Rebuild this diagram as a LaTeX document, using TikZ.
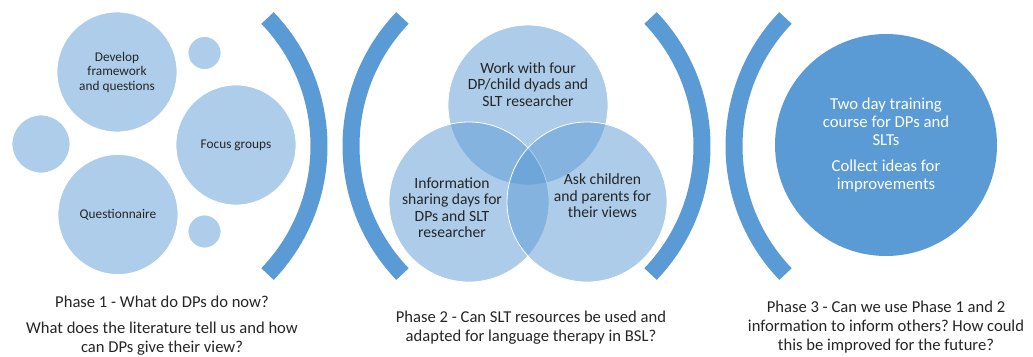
\documentclass[tikz,border=0pt]{standalone}
\usepackage{fontspec}
\setmainfont{Carlito}
\usetikzlibrary{calc}
\frenchspacing

\definecolor{arcblue}{HTML}{5B9BD5}
\definecolor{lightblue}{HTML}{ADCDEA}
\definecolor{textgray}{HTML}{262626}

\begin{document}
\begin{tikzpicture}[x=1pt,y=-1pt,
        band/.style={arcblue,line width=17pt},
        bubble/.style={circle,fill=lightblue,draw=white,line width=0.8pt,inner sep=0pt,
            text=textgray,align=center,font=\fontsize{13.3}{14.5}\selectfont},
        venn/.style={circle,fill=arcblue,fill opacity=0.5,draw=white,line width=0.8pt,
            minimum size=160pt,inner sep=0pt},
        venntext/.style={text=textgray,align=center,font=\fontsize{15.6}{16.5}\selectfont},
        phasetext/.style={text=textgray,align=center,font=\fontsize{16.6}{19}\selectfont}]
        \useasboundingbox (0,0) rectangle (1033,356);
        \fill[white] (0,0) rectangle (1033,356);

        % Arcs
        \foreach \cx/\mid in {134/0, 536/180, 517/0, 919/180}
            \draw[band] (\cx,146) ++({\mid-43.8}:185) arc[start angle=\mid-43.8, end angle=\mid+43.8, radius=185];

        % Phase 1 bubbles
        \node[bubble,minimum size=120pt] (develop) at (117,72) {Develop\\framework\\and questions};
        \node[bubble,minimum size=120pt] (focus) at (236,145) {Focus groups};
        \node[bubble,minimum size=120pt] (quest) at (118,214.5) {Questionnaire};
        \node[bubble,minimum size=58pt] (leftdot) at (41,144) {};
        \node[bubble,minimum size=33pt] (topdot) at (204.5,53) {};
        \node[bubble,minimum size=33pt] (botdot) at (204.5,231.5) {};

        % Phase 2 venn
        \node[venn] (work) at (528,105) {};
        \node[venn] (info) at (469,202) {};
        \node[venn] (ask) at (587,202) {};
        \node[venntext] (worklabel) at ([yshift=20.5pt]work.center) {Work with four\\DP/child dyads and\\SLT researcher};
        \node[venntext] (infolabel) at ([xshift=-17pt,yshift=-5.5pt]info.center) {Information\\sharing days for\\DPs and SLT\\researcher};
        \node[venntext] (asklabel) at ([xshift=15.5pt,yshift=6pt]ask.center) {Ask children\\and parents for\\their views};

        % Phase 3 circle
        \node[circle,fill=arcblue,minimum size=222pt,inner sep=0pt,text=white,align=center,
            font=\fontsize{16.7}{18}\selectfont] (training) at (886,145)
            {Two day training\\course for DPs and\\SLTs\\[8pt]Collect ideas for\\improvements};

        % Captions
        \node[phasetext,inner sep=1pt] (phaseone) at (162,326) {Phase 1 - What do DPs do now?\\[7pt]What does the literature tell us and how\\can DPs give their view?};
        \node[phasetext] (phasetwo) at (531,327.5) {Phase 2 - Can SLT resources be used and\\adapted for language therapy in BSL?};
        \node[phasetext] (phasethree) at (886,327.5) {Phase 3 - Can we use Phase 1 and 2\\information to inform others? How could\\this be improved for the future?};
\end{tikzpicture}
\end{document}
